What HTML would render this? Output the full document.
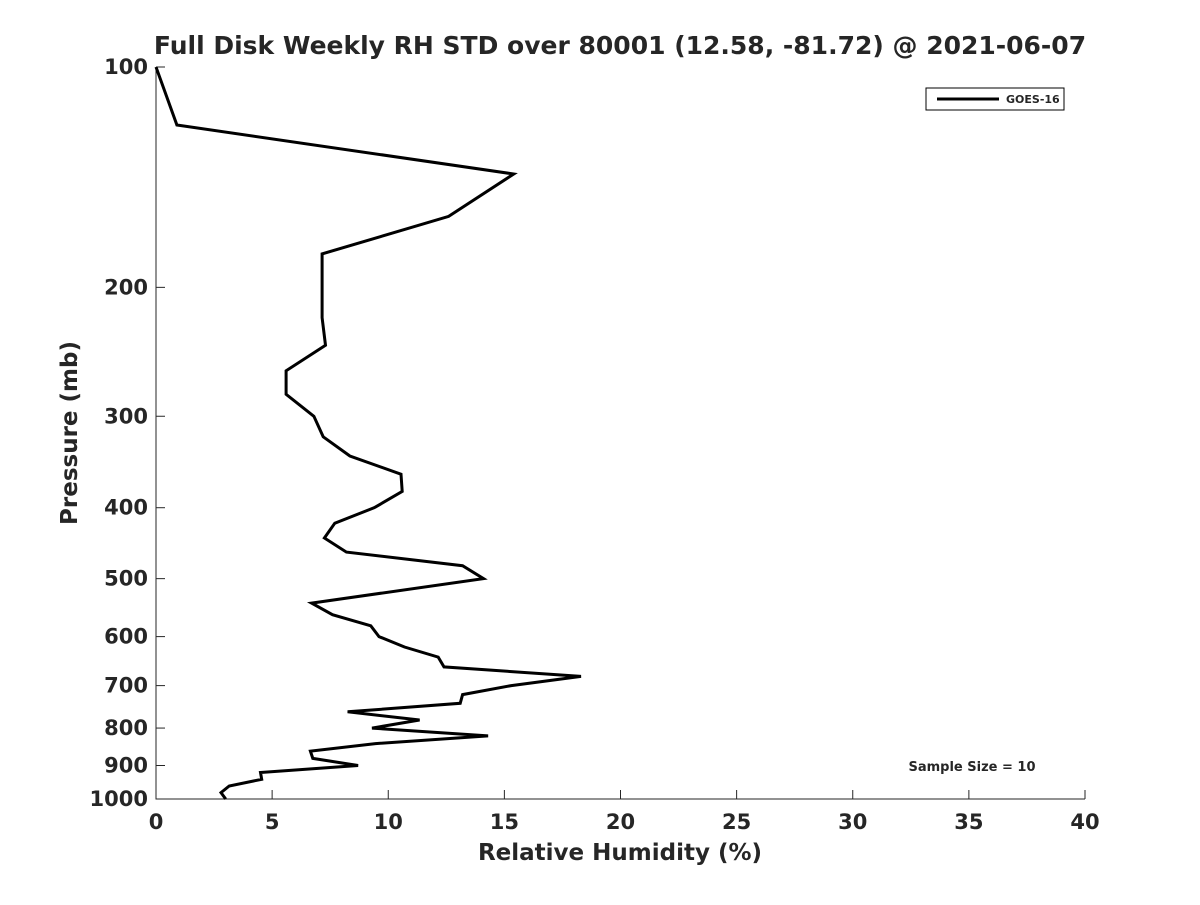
<!DOCTYPE html>
<html><head><meta charset="utf-8"><style>
body{margin:0;background:#fff;}
svg text{font-family:"DejaVu Sans","Liberation Sans",sans-serif;font-weight:bold;fill:#262626;}
</style></head><body>
<svg id="c" width="1200" height="900" xmlns="http://www.w3.org/2000/svg">
<text x="620" y="54" font-size="25" text-anchor="middle" fill="#000">Full Disk Weekly RH STD over 80001 (12.58, -81.72) @ 2021-06-07</text>
<g id="axes"></g>
<text x="620" y="860" font-size="23" text-anchor="middle">Relative Humidity (%)</text>
<text transform="translate(77,433) rotate(-90)" font-size="23" text-anchor="middle">Pressure (mb)</text>
<g>
<rect x="926" y="88" width="138" height="22" fill="#fff" stroke="#000" stroke-width="1"/>
<line x1="937" y1="99" x2="999" y2="99" stroke="#000" stroke-width="3"/>
<text x="1006" y="103" font-size="11" fill="#000">GOES-16</text>
</g>
<text x="972" y="771" font-size="13" text-anchor="middle" fill="#000">Sample Size = 10</text>
</svg>
<script>
const pressures=[100,120,140,160,180,200,220,240,260,280,300,320,340,360,380,400,420,440,460,480,500,540,560,580,600,620,640,660,680,700,720,740,760,780,800,820,840,860,880,900,920,940,960,980,1000];
const rhStd=[0,0.9,15.4,12.6,7.15,7.15,7.15,7.3,5.6,5.6,6.8,7.2,8.35,10.55,10.6,9.4,7.7,7.25,8.2,13.2,14.1,6.7,7.6,9.25,9.6,10.7,12.15,12.4,18.3,15.3,13.2,13.1,8.25,11.35,9.3,14.3,9.45,6.65,6.75,8.7,4.5,4.55,3.15,2.8,3.0];
const xTicks=[0,5,10,15,20,25,30,35,40];
const yTicks=[100,200,300,400,500,600,700,800,900,1000];
const X0=156,X1=1085,Y0=67,Y1=799;
const xs=v=>X0+(v-0)/40*(X1-X0);
const ys=p=>Y0+(Math.log10(p)-2)*(Y1-Y0);
const NS="http://www.w3.org/2000/svg";
const svg=document.getElementById('c'),g=document.getElementById('axes');
function mk(t,a,parent){const e=document.createElementNS(NS,t);for(const k in a)e.setAttribute(k,a[k]);(parent||g).appendChild(e);return e;}
const ax=mk('path',{d:`M${X0},${Y0}V${Y1}H${X1}`,fill:'none',stroke:'#262626','stroke-width':1});


xTicks.forEach(v=>{const x=xs(v);
 const l=mk('line',{x1:x,x2:x,y1:Y1,y2:Y1-9,stroke:'#262626'});
 
 
 const t=mk('text',{x:x,y:Y1+30,'font-size':21,'text-anchor':'middle'});t.textContent=v;
 
 
});
yTicks.forEach(p=>{const y=ys(p);
 const l=mk('line',{x1:X0,x2:X0+9,y1:y,y2:y,stroke:'#262626'});
 
 
 const t=mk('text',{x:X0-8,y:y+7,'font-size':21,'text-anchor':'end'});t.textContent=p;
 
 
});
const d=pressures.map((p,i)=>(i?'L':'M')+xs(rhStd[i]).toFixed(1)+','+ys(p).toFixed(1)).join('');
const line=mk('path',{d:d,fill:'none',stroke:'#000','stroke-width':3,'stroke-linejoin':'miter'},svg);


</script>
</body></html>
